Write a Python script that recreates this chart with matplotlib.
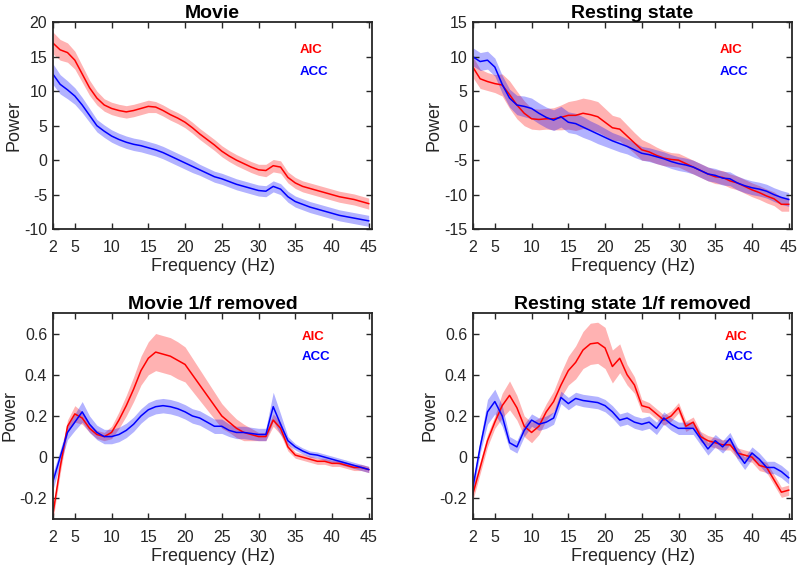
import numpy as np
import matplotlib
matplotlib.use('Agg')
import matplotlib.pyplot as plt

plt.rcParams['font.family'] = ['Liberation Sans', 'DejaVu Sans']
plt.rcParams['axes.unicode_minus'] = False

freq = list(range(2, 46))

# Movie
movie_aic = [17, 16, 15.6, 14.5, 12.5, 10.5, 9, 8, 7.5, 7.2, 7.0, 7.2, 7.5, 7.8, 7.7, 7.2, 6.6, 6.1, 5.5, 4.7,
             3.8, 3.0, 2.2, 1.3, 0.6, 0.0, -0.5, -1.0, -1.4, -1.5, -0.8, -1.0, -2.5, -3.3, -3.8, -4.1, -4.4, -4.7,
             -5.0, -5.3, -5.5, -5.7, -6.0, -6.3]
movie_aic_err = [1.6, 1.5, 1.4, 1.3, 1.2, 1.1, 1.0, 0.9, 0.9, 0.9, 0.9, 0.9, 0.9, 0.9, 0.8, 0.8, 0.8, 0.8, 0.8, 0.8,
                 0.8, 0.8, 0.8, 0.8, 0.8, 0.8, 0.8, 0.8, 0.8, 0.9, 0.9, 0.9, 0.8, 0.8, 0.8, 0.8, 0.8, 0.8,
                 0.8, 0.8, 0.8, 0.8, 0.8, 0.8]
movie_acc = [12.5, 11, 10.2, 9.3, 8, 6.5, 5, 4.2, 3.5, 3.0, 2.6, 2.3, 2.1, 1.8, 1.5, 1.1, 0.6, 0.1, -0.4, -0.9,
             -1.4, -1.9, -2.4, -2.7, -3.1, -3.5, -3.8, -4.1, -4.4, -4.5, -3.8, -4.2, -5.3, -6.0, -6.4, -6.8, -7.1,
             -7.4, -7.7, -8.0, -8.2, -8.4, -8.6, -8.8]
movie_acc_err = [1.5, 1.4, 1.3, 1.2, 1.1, 1.0, 0.9, 0.9, 0.9, 0.9, 0.9, 0.9, 0.9, 0.9, 0.9, 0.9, 0.9, 0.9, 0.9, 0.9,
                 0.8, 0.8, 0.8, 0.8, 0.8, 0.8, 0.8, 0.8, 0.8, 0.8, 0.8, 0.8, 0.8, 0.8, 0.8, 0.8, 0.8, 0.8,
                 0.8, 0.8, 0.8, 0.8, 0.8, 0.8]

# Resting state
rest_aic = [8.5, 6.8, 6.4, 6.1, 5.9, 4.5, 3.0, 1.8, 1.0, 0.9, 1.0, 1.0, 1.2, 1.5, 1.5, 1.8, 1.6, 1.3, 0.5, -0.3,
            -0.5, -1.5, -2.5, -3.5, -3.8, -4.3, -4.7, -4.9, -5.0, -5.5, -6.0, -6.5, -7.0, -7.4, -7.5, -8.0, -8.3,
            -8.8, -9.3, -9.7, -10.2, -10.6, -11.4, -11.4]
rest_aic_err = [1.5, 1.4, 1.3, 1.3, 1.6, 2.0, 2.0, 1.8, 1.5, 1.5, 1.5, 1.6, 1.8, 2.0, 2.2, 2.2, 2.2, 2.2, 2.0, 1.8,
                1.7, 1.6, 1.5, 1.5, 1.3, 1.2, 1.1, 1.0, 1.0, 1.0, 1.0, 1.0, 1.0, 1.0, 1.0, 1.0, 1.0, 1.0,
                1.0, 1.0, 1.0, 1.0, 1.0, 1.0]
rest_acc = [10.0, 9.3, 9.5, 8.5, 6.0, 4.0, 3.0, 2.8, 2.5, 1.8, 1.2, 0.8, 1.3, 0.5, 0.3, -0.2, -0.7, -1.2, -1.7, -2.2,
            -2.6, -3.0, -3.5, -4.0, -4.2, -4.5, -4.8, -5.2, -5.5, -5.7, -6.0, -6.5, -7.0, -7.2, -7.6, -7.7, -8.3,
            -8.7, -9.0, -9.2, -9.5, -10.0, -10.4, -10.7]
rest_acc_err = [1.3, 1.3, 1.3, 1.3, 1.3, 1.3, 1.4, 1.5, 1.5, 1.5, 1.5, 1.5, 1.5, 1.5, 1.5, 1.5, 1.4, 1.4, 1.3, 1.2,
                1.2, 1.1, 1.1, 1.0, 1.0, 1.0, 1.0, 1.0, 1.0, 1.0, 1.0, 1.0, 1.0, 1.0, 1.0, 1.0, 1.0, 1.0,
                1.0, 1.0, 1.0, 1.0, 1.0, 1.0]

# Movie 1/f removed
movie_f_aic = [-0.28, -0.05, 0.15, 0.21, 0.19, 0.14, 0.11, 0.10, 0.12, 0.18, 0.25, 0.33, 0.42, 0.48, 0.51, 0.50,
               0.49, 0.47, 0.45, 0.40, 0.35, 0.30, 0.25, 0.20, 0.17, 0.14, 0.12, 0.11, 0.10, 0.10, 0.18, 0.14,
               0.05, 0.01, 0.00, -0.01, -0.02, -0.02, -0.03, -0.03, -0.04, -0.05, -0.05, -0.06]
movie_f_aic_err = [0.03, 0.03, 0.03, 0.04, 0.03, 0.02, 0.02, 0.02, 0.03, 0.04, 0.05, 0.06, 0.07, 0.08, 0.09, 0.09,
                   0.09, 0.09, 0.085, 0.08, 0.075, 0.07, 0.065, 0.06, 0.05, 0.045, 0.04, 0.03, 0.02, 0.02, 0.03,
                   0.03, 0.02, 0.015, 0.015, 0.015, 0.015, 0.015, 0.015, 0.015, 0.015, 0.015, 0.015, 0.015]
movie_f_acc = [-0.12, 0.0, 0.12, 0.17, 0.22, 0.16, 0.12, 0.10, 0.10, 0.11, 0.13, 0.16, 0.20, 0.23, 0.245, 0.25,
               0.245, 0.235, 0.22, 0.20, 0.19, 0.17, 0.15, 0.15, 0.13, 0.12, 0.12, 0.115, 0.11, 0.11, 0.245, 0.16,
               0.08, 0.05, 0.03, 0.015, 0.01, 0.0, -0.01, -0.02, -0.03, -0.04, -0.05, -0.06]
movie_f_acc_err = [0.04, 0.035, 0.035, 0.04, 0.05, 0.04, 0.035, 0.035, 0.035, 0.035, 0.035, 0.035, 0.035, 0.035,
                   0.035, 0.035, 0.035, 0.035, 0.035, 0.035, 0.035, 0.035, 0.035, 0.035, 0.03, 0.03, 0.03, 0.03,
                   0.03, 0.03, 0.07, 0.05, 0.02, 0.015, 0.015, 0.015, 0.015, 0.015, 0.015, 0.015, 0.015, 0.015,
                   0.015, 0.015]

# Resting state 1/f removed
rest_f_aic = [-0.18, -0.05, 0.08, 0.17, 0.25, 0.30, 0.24, 0.15, 0.12, 0.15, 0.22, 0.27, 0.35, 0.42, 0.46, 0.52,
              0.55, 0.555, 0.53, 0.44, 0.48, 0.40, 0.35, 0.25, 0.24, 0.21, 0.18, 0.20, 0.24, 0.15, 0.17, 0.10,
              0.08, 0.07, 0.06, 0.06, 0.02, 0.01, 0.0, -0.04, -0.05, -0.11, -0.17, -0.16]
rest_f_aic_err = [0.03, 0.03, 0.03, 0.03, 0.06, 0.07, 0.06, 0.05, 0.05, 0.04, 0.04, 0.05, 0.06, 0.07, 0.08, 0.09,
                  0.1, 0.1, 0.1, 0.08, 0.07, 0.05, 0.04, 0.03, 0.025, 0.025, 0.025, 0.025, 0.025, 0.025, 0.025,
                  0.025, 0.025, 0.025, 0.025, 0.025, 0.025, 0.025, 0.025, 0.025, 0.025, 0.025, 0.025, 0.025]
rest_f_acc = [-0.15, 0.05, 0.22, 0.27, 0.20, 0.07, 0.05, 0.13, 0.18, 0.16, 0.17, 0.19, 0.29, 0.26, 0.285, 0.275,
              0.27, 0.265, 0.25, 0.22, 0.18, 0.19, 0.17, 0.16, 0.17, 0.14, 0.19, 0.16, 0.14, 0.14, 0.14, 0.09,
              0.04, 0.08, 0.05, 0.09, 0.02, -0.03, 0.02, -0.01, -0.05, -0.05, -0.07, -0.10]
rest_f_acc_err = [0.03, 0.03, 0.06, 0.06, 0.05, 0.03, 0.03, 0.03, 0.03, 0.03, 0.03, 0.03, 0.03, 0.03, 0.03, 0.03,
                  0.03, 0.03, 0.03, 0.03, 0.03, 0.03, 0.03, 0.03, 0.03, 0.03, 0.03, 0.03, 0.03, 0.03, 0.03, 0.03,
                  0.03, 0.03, 0.03, 0.03, 0.03, 0.03, 0.03, 0.03, 0.03, 0.03, 0.03, 0.03]

xticks = [2, 5, 10, 15, 20, 25, 30, 35, 40, 45]

panels = [
    ('Movie', movie_aic, movie_aic_err, movie_acc, movie_acc_err, (-10, 20), [-10, -5, 0, 5, 10, 15, 20],
     [0.066, 0.598, 0.3995, 0.363], (0.773, 0.865, 0.758)),
    ('Resting state', rest_aic, rest_aic_err, rest_acc, rest_acc_err, (-15, 15), [-15, -10, -5, 0, 5, 10, 15],
     [0.591, 0.598, 0.3995, 0.363], (0.771, 0.865, 0.758)),
    ('Movie 1/f removed', movie_f_aic, movie_f_aic_err, movie_f_acc, movie_f_acc_err, (-0.3, 0.7),
     [-0.2, 0, 0.2, 0.4, 0.6], [0.066, 0.0895, 0.3995, 0.3615], (0.78, 0.883, 0.786)),
    ('Resting state 1/f removed', rest_f_aic, rest_f_aic_err, rest_f_acc, rest_f_acc_err, (-0.3, 0.7),
     [-0.2, 0, 0.2, 0.4, 0.6], [0.591, 0.0895, 0.3995, 0.3615], (0.787, 0.883, 0.786)),
]

fig = plt.figure(figsize=(8, 5.7), dpi=100)
f = np.array(freq)
for title, aic, aic_err, acc, acc_err, ylim, yticks, pos, leg in panels:
    ax = fig.add_axes(pos)
    aic = np.array(aic); aic_err = np.array(aic_err)
    acc = np.array(acc); acc_err = np.array(acc_err)
    ax.fill_between(f, aic - aic_err, aic + aic_err, color='red', alpha=0.3, linewidth=0)
    ax.fill_between(f, acc - acc_err, acc + acc_err, color='blue', alpha=0.3, linewidth=0)
    ax.plot(f, aic, color='red', linewidth=1.1)
    ax.plot(f, acc, color='blue', linewidth=1.1)
    ax.set_xlim(2, 45.5)
    ax.set_ylim(*ylim)
    ax.set_xticks(xticks)
    ax.set_yticks(yticks)
    ax.set_yticklabels(['%g' % v for v in yticks])
    ax.tick_params(direction='in', top=True, right=True, length=4, width=1,
                   labelsize=11.5, colors='#262626')
    ax.tick_params(axis='x', pad=8)
    ax.tick_params(axis='y', pad=4)
    for s in ax.spines.values():
        s.set_linewidth(1.3)
        s.set_color('#262626')
    ax.set_title(title, fontsize=14, fontweight='bold', pad=3)
    ax.set_xlabel('Frequency (Hz)', fontsize=13, color='#262626', labelpad=2)
    ax.set_ylabel('Power', fontsize=13, color='#262626', labelpad=1)
    ax.text(leg[0], leg[1], 'AIC', color='red', fontsize=9.5, fontweight='bold',
            transform=ax.transAxes, va='center')
    ax.text(leg[0], leg[2], 'ACC', color='blue', fontsize=9.5, fontweight='bold',
            transform=ax.transAxes, va='center')

fig.savefig('out.png', dpi=100)
